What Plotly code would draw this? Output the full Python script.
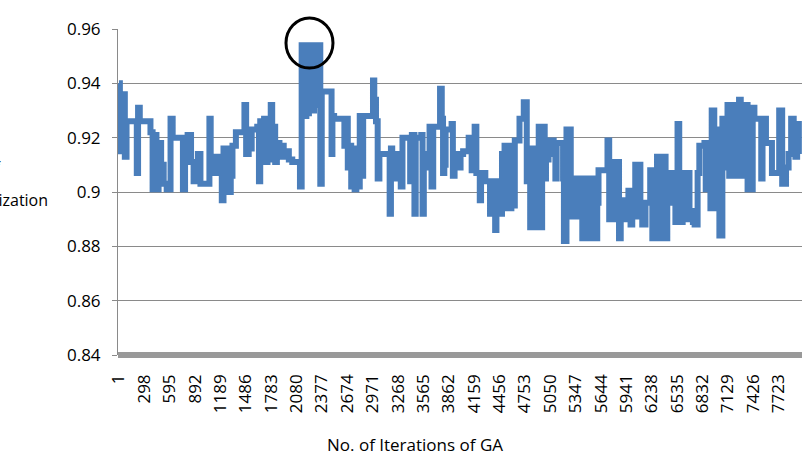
import plotly.graph_objects as go

# ---- data ----
iterations = [
    1, 12, 30, 45, 70, 90, 210, 225, 245, 370, 395, 415, 440, 465, 495, 525, 560, 590, 605, 630,
    735, 750, 775, 805, 845, 875, 905, 925, 955, 1060, 1075, 1100, 1140, 1205, 1225, 1260, 1285,
    1310, 1330, 1370, 1440, 1470, 1490, 1520, 1555, 1620, 1640, 1655, 1680, 1700, 1720, 1740, 1760,
    1778, 1795, 1810, 1830, 1850, 1880, 1900, 1930, 1960, 1990, 2030, 2120, 2140,
    2150, 2165, 2180, 2195, 2210, 2225, 2240, 2255, 2270, 2285, 2300, 2315, 2330, 2345, 2358,
    2375, 2480, 2490, 2500, 2520, 2620, 2640, 2660, 2680, 2700, 2720, 2740, 2760, 2780, 2800,
    2820, 2840, 2860, 2960, 2975, 2990, 3010, 3030, 3050, 3160, 3170, 3185, 3200, 3220, 3240,
    3260, 3280, 3300, 3320, 3400, 3410, 3430, 3460, 3475, 3540, 3555, 3570, 3600, 3637, 3660,
    3680, 3750, 3760, 3780, 3795, 3810, 3825, 3880, 3895, 3910, 3930, 3960, 3980, 4000, 4030,
    4095, 4130, 4165, 4185, 4225, 4240, 4290, 4330, 4345, 4360, 4375, 4390, 4405, 4420, 4440,
    4455, 4470, 4485, 4500, 4515, 4535, 4555, 4575, 4595, 4615, 4635, 4690, 4740, 4775, 4795,
    4815, 4835, 4855, 4875, 4895, 4915, 4935, 4955, 4985, 5000, 5030, 5090, 5110, 5125, 5190,
    5200, 5210, 5240, 5255, 5270, 5290, 5320, 5340, 5360, 5380, 5400, 5425, 5445, 5465, 5485,
    5505, 5525, 5545, 5560, 5580, 5600, 5615, 5720, 5740, 5760, 5780, 5800, 5820, 5840, 5855,
    5875, 5895, 5965, 5990, 6010, 6045, 6065, 6085, 6105, 6127, 6165, 6220, 6245, 6300, 6320,
    6340, 6360, 6380, 6400, 6420, 6490, 6515, 6540, 6560, 6580, 6600, 6620, 6640, 6680, 6700,
    6720, 6740, 6775, 6795, 6855, 6870, 6890, 6910, 6925, 6940, 6970, 7005, 7030, 7065, 7110,
    7125, 7145, 7165, 7185, 7205, 7225, 7245, 7260, 7280, 7300, 7320, 7340, 7360, 7380, 7400,
    7420, 7440, 7500, 7520, 7535, 7575, 7645, 7700, 7730, 7765, 7810, 7840, 7870, 7900, 7920,
    7940, 7960,
]
utilization = [
    0.940, 0.915, 0.930, 0.936, 0.913, 0.926, 0.907, 0.931, 0.926, 0.922, 0.901, 0.921, 0.901, 0.918, 0.910, 0.903, 0.901, 0.901, 0.927, 0.920,
    0.920, 0.901, 0.913, 0.921, 0.911, 0.904, 0.908, 0.914, 0.903, 0.927, 0.913, 0.907, 0.913, 0.897, 0.916, 0.908, 0.900,
    0.906, 0.917, 0.922, 0.922, 0.932, 0.914, 0.916, 0.923, 0.924, 0.904, 0.926, 0.912, 0.927, 0.911, 0.925, 0.912,
    0.932, 0.913, 0.924, 0.911, 0.918, 0.913, 0.917, 0.913, 0.915, 0.912, 0.911, 0.902, 0.954,
    0.930, 0.954, 0.928, 0.954, 0.929, 0.954, 0.931, 0.954, 0.930, 0.954, 0.932, 0.954, 0.933, 0.954, 0.903,
    0.937, 0.937, 0.914, 0.928, 0.927, 0.927, 0.917, 0.927, 0.909, 0.917, 0.902, 0.916, 0.901, 0.915, 0.902,
    0.928, 0.906, 0.928, 0.928, 0.941, 0.934, 0.926, 0.905, 0.914, 0.914, 0.892, 0.916, 0.914, 0.905, 0.914,
    0.906, 0.914, 0.902, 0.920, 0.920, 0.904, 0.921, 0.892, 0.920, 0.921, 0.892, 0.914, 0.909, 0.924, 0.902,
    0.924, 0.924, 0.938, 0.927, 0.907, 0.910, 0.923, 0.923, 0.925, 0.906, 0.914, 0.914, 0.909, 0.914, 0.915,
    0.920, 0.908, 0.924, 0.907, 0.897, 0.907, 0.904, 0.904, 0.892, 0.904, 0.892, 0.904, 0.886, 0.904, 0.892,
    0.904, 0.892, 0.914, 0.894, 0.917, 0.894, 0.916, 0.894, 0.917, 0.895, 0.919, 0.927, 0.933, 0.904, 0.916,
    0.887, 0.916, 0.887, 0.915, 0.887, 0.924, 0.887, 0.924, 0.905, 0.912, 0.919, 0.914, 0.905, 0.918, 0.918,
    0.905, 0.882, 0.923, 0.891, 0.923, 0.891, 0.905, 0.891, 0.905, 0.891, 0.905, 0.883, 0.905, 0.883, 0.905,
    0.883, 0.905, 0.883, 0.896, 0.883, 0.896, 0.908, 0.919, 0.890, 0.911, 0.890, 0.911, 0.890, 0.911, 0.883,
    0.897, 0.890, 0.9005, 0.888, 0.895, 0.910, 0.891, 0.910, 0.891, 0.888, 0.896, 0.908, 0.883, 0.913, 0.883,
    0.913, 0.883, 0.913, 0.883, 0.907, 0.896, 0.889, 0.925, 0.907, 0.889, 0.907, 0.890, 0.907, 0.890, 0.893,
    0.889, 0.888, 0.907, 0.917, 0.918, 0.901, 0.918, 0.904, 0.894, 0.930, 0.894, 0.923, 0.884, 0.927, 0.909,
    0.932, 0.906, 0.932, 0.907, 0.932, 0.906, 0.932, 0.934, 0.906, 0.932, 0.907, 0.932, 0.901, 0.931, 0.901,
    0.931, 0.927, 0.927, 0.905, 0.927, 0.918, 0.907, 0.907, 0.930, 0.903, 0.909, 0.914, 0.927, 0.925, 0.913,
    0.925, 0.914,
]
x_tick_values = [1, 298, 595, 892, 1189, 1486, 1783, 2080, 2377, 2674, 2971, 3268, 3565, 3862,
                 4159, 4456, 4753, 5050, 5347, 5644, 5941, 6238, 6535, 6832, 7129, 7426, 7723]
x_tick_labels = [str(v) for v in x_tick_values]
y_tick_values = [0.84, 0.86, 0.88, 0.90, 0.92, 0.94, 0.96]
y_tick_labels = ["0.84", "0.86", "0.88", "0.9", "0.92", "0.94", "0.96"]
x_title = "No. of Iterations of GA"
y_title_lines = ["Degree of", "Utilization"]

FONT = "Open Sans"
GRID = "#8a8a8a"

fig = go.Figure()
fig.add_trace(go.Scatter(
    x=iterations, y=utilization, mode="lines",
    line=dict(color="#4a7ebb", width=6, shape="hv"),
    showlegend=False, hoverinfo="skip",
))

fig.update_layout(
    width=809, height=464,
    margin=dict(l=118, r=7, t=29, b=109),
    paper_bgcolor="white", plot_bgcolor="white",
    font=dict(family=FONT, size=16, color="#000000"),
    xaxis=dict(
        range=[-10, 7997], tickvals=x_tick_values, ticktext=x_tick_labels,
        tickangle=-90, showgrid=False, zeroline=False, showline=False,
        ticks="", ticklabelstandoff=15, tickfont=dict(family=FONT, size=17),
    ),
    yaxis=dict(
        range=[0.84, 0.96], tickvals=y_tick_values, ticktext=y_tick_labels,
        showgrid=True, gridcolor=GRID, gridwidth=1, zeroline=False,
        showline=True, linecolor=GRID, linewidth=1,
        ticks="outside", ticklen=5, tickcolor=GRID, ticklabelstandoff=8,
        tickfont=dict(family=FONT, size=17),
    ),
    shapes=[
        dict(type="line", xref="paper", yref="paper", x0=0, x1=1, y0=0, y1=0,
             line=dict(color="#999999", width=6), layer="above"),
        dict(type="circle", xref="paper", yref="paper", x0=0.2456, x1=0.3143, y0=0.880, y1=1.034,
             line=dict(color="#000000", width=3), layer="above"),
    ],
    annotations=[
        dict(text=x_title, xref="paper", yref="paper", x=0.434, y=0, yshift=-89,
             showarrow=False, xanchor="center", yanchor="middle",
             font=dict(family=FONT, size=17)),
        dict(text=y_title_lines[0], xref="paper", yref="paper", x=-0.166, y=0.577,
             showarrow=False, xanchor="right", yanchor="middle",
             font=dict(family=FONT, size=16)),
        dict(text=y_title_lines[1], xref="paper", yref="paper", x=-0.0994, y=0.475,
             showarrow=False, xanchor="right", yanchor="middle",
             font=dict(family=FONT, size=16)),
    ],
)

fig.write_html("out.html")
